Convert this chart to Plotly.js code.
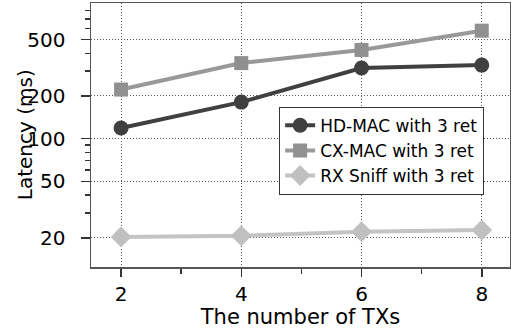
<!DOCTYPE html>
<html>
<head>
<meta charset="utf-8">
<script src="https://cdn.plot.ly/plotly-3.0.1.min.js"></script>
<style>html,body{margin:0;padding:0;background:#fff;}#chart{width:511px;height:333px;}</style>
</head>
<body>
<div id="chart"></div>
<script>
const txCounts = [2, 4, 6, 8];
const hdMac = [119, 181, 315, 330];
const cxMac = [222, 341, 422, 577];
const rxSniff = [20.3, 20.7, 22.1, 22.7];
const seriesNames = ["HD-MAC with 3 ret", "CX-MAC with 3 ret", "RX Sniff with 3 ret"];
const yMajorTicks = [20, 50, 100, 200, 500];
const yMinorTicks = [30, 40, 60, 70, 80, 90, 300, 400, 600, 700, 800];
const xMajorTicks = [2, 4, 6, 8];
const xMinorTicks = [3, 5, 7];
const xTitle = "The number of TXs";
const yTitle = "Latency (ms)";

const AXFONT = "DejaVu Sans, sans-serif";
const LGFONT = "DejaVu Sans, sans-serif";

const traces = [
  {x: txCounts, y: hdMac, name: seriesNames[0], mode: "lines+markers",
   line: {color: "#404040", width: 4}, marker: {symbol: "circle", size: 15, color: "#404040"}},
  {x: txCounts, y: cxMac, name: seriesNames[1], mode: "lines+markers",
   line: {color: "#999999", width: 4}, marker: {symbol: "square", size: 14, color: "#909090"}},
  {x: txCounts, y: rxSniff, name: seriesNames[2], mode: "lines+markers",
   line: {color: "#c4c4c4", width: 4}, marker: {symbol: "diamond", size: 16, color: "#c0c0c0"}}
];

const layout = {
  width: 511, height: 333,
  margin: {l: 91, r: 1, t: 3, b: 66},
  paper_bgcolor: "#fff", plot_bgcolor: "#fff",
  font: {family: AXFONT, color: "#000", size: 20},
  showlegend: true,
  legend: {x: 0.449, y: 0.607, xanchor: "left", yanchor: "top",
    bgcolor: "#fff", bordercolor: "#333", borderwidth: 1,
    font: {family: LGFONT, size: 17, color: "#000"}},
  xaxis: {
    range: [1.5, 8.47], tickvals: xMajorTicks, ticktext: xMajorTicks.map(String),
    ticks: "outside", ticklen: 8, tickwidth: 1.5, tickcolor: "#333",
    showline: true, linecolor: "#555", linewidth: 1.5, mirror: true,
    showgrid: true, gridcolor: "#555", griddash: "1px,2px", gridwidth: 1,
    zeroline: false, tickfont: {family: AXFONT, size: 20}, ticklabelstandoff: 0,
    minor: {tickvals: xMinorTicks, ticks: "outside", ticklen: 5, tickwidth: 1.5, tickcolor: "#333", showgrid: false},
    title: {text: xTitle, font: {family: AXFONT, size: 21}, standoff: 2}
  },
  yaxis: {
    type: "log", range: [Math.log10(12.47), Math.log10(904)],
    tickvals: yMajorTicks, ticktext: yMajorTicks.map(String),
    ticks: "outside", ticklen: 9, tickwidth: 1.5, tickcolor: "#333",
    showline: true, linecolor: "#555", linewidth: 1.5, mirror: true,
    showgrid: true, gridcolor: "#555", griddash: "1px,2px", gridwidth: 1,
    zeroline: false, tickfont: {family: AXFONT, size: 20}, ticklabelstandoff: 11,
    minor: {tickvals: yMinorTicks, ticks: "outside", ticklen: 5, tickwidth: 1.5, tickcolor: "#333", showgrid: false}
  },
  annotations: [{
    text: yTitle, xref: "paper", yref: "paper", x: -0.157, y: 0.5,
    xanchor: "center", yanchor: "middle", textangle: -90, showarrow: false,
    font: {family: AXFONT, size: 20, color: "#000"}
  }]
};

Plotly.newPlot("chart", traces, layout, {displayModeBar: false, staticPlot: true});
</script>
</body>
</html>
